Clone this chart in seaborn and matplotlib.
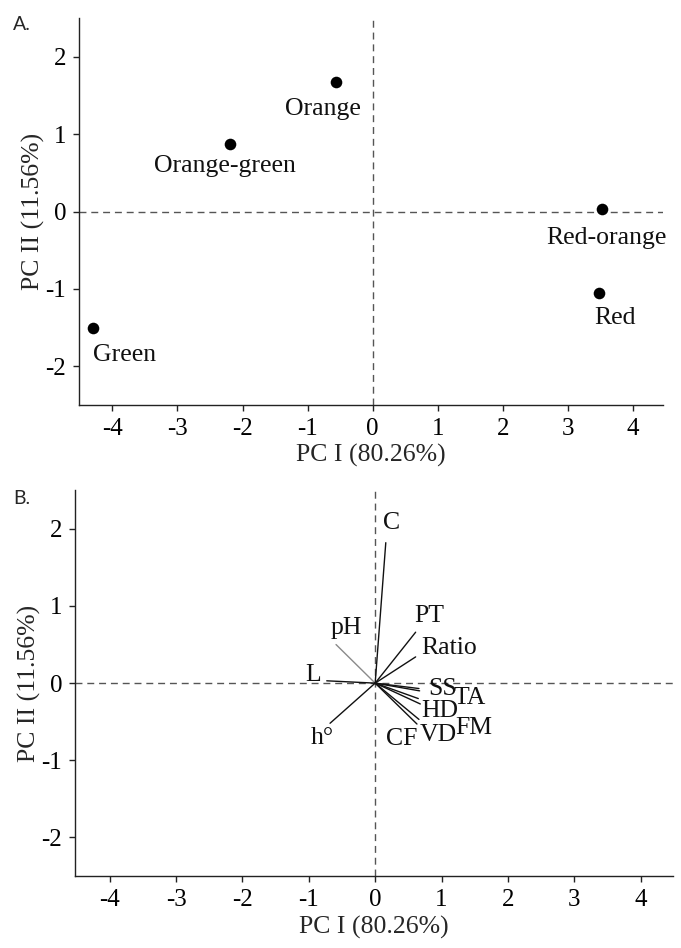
import numpy as np
import pandas as pd
import matplotlib
matplotlib.use("Agg")
import matplotlib.pyplot as plt
import seaborn as sns

# ---------------- data ----------------
# Panel A: PCA scores of fruit colour stages
stages = ["Green", "Orange-green", "Orange", "Red-orange", "Red"]
pc1_scores = [-4.30, -2.19, -0.57, 3.53, 3.48]
pc2_scores = [-1.50, 0.88, 1.67, 0.03, -1.05]

# Panel B: PCA loadings (vectors)
variables = ["C", "PT", "Ratio", "pH", "L", "h°", "SS", "TA", "HD", "FM", "VD", "CF"]
pc1_load = [0.16, 0.61, 0.61, -0.59, -0.73, -0.68, 0.66, 0.67, 0.65, 0.68, 0.66, 0.63]
pc2_load = [1.82, 0.66, 0.34, 0.50, 0.03, -0.52, -0.07, -0.10, -0.20, -0.27, -0.47, -0.53]

# label offsets relative to points / vector tips (data units)
stage_lab_dx = [0.48, -0.08, -0.20, 0.06, 0.25]
stage_lab_dy = [-0.36, -0.29, -0.35, -0.37, -0.33]
var_lab_dx = [0.09, 0.20, 0.51, 0.16, -0.20, -0.12, 0.35, 0.76, 0.32, 0.81, 0.29, -0.23]
var_lab_dy = [0.25, 0.21, 0.12, 0.22, 0.08, -0.19, 0.00, -0.09, -0.16, -0.31, -0.20, -0.19]

x_label = "PC I (80.26%)"
y_label = "PC II (11.56%)"
ticks_x = [-4, -3, -2, -1, 0, 1, 2, 3, 4]
ticks_y = [-2, -1, 0, 1, 2]

# ---------------- style ----------------
sns.set_theme(style="ticks")
plt.rcParams["font.family"] = ["Liberation Serif", "DejaVu Serif"]
plt.rcParams["axes.linewidth"] = 1.0
plt.rcParams["xtick.major.size"] = 4.5
plt.rcParams["ytick.major.size"] = 4.5
plt.rcParams["xtick.major.width"] = 1.0
plt.rcParams["ytick.major.width"] = 1.0

fig = plt.figure(figsize=(6.81, 9.48), dpi=100)
axA = fig.add_axes([0.1164, 0.5728, 0.8576, 0.408])
axB = fig.add_axes([0.1106, 0.0759, 0.8777, 0.407])

dash_kw = dict(color="#555555", lw=1.0, ls=(0, (5, 3.5)), zorder=1)
TXT = 18.5


def style_axes(ax):
    ax.set_xlim(-4.51, 4.47)
    ax.set_ylim(-2.5, 2.5)
    ax.set_xticks(ticks_x)
    ax.set_yticks(ticks_y)
    ax.set_xticklabels([str(t) for t in ticks_x])
    ax.set_yticklabels([str(t) for t in ticks_y])
    ax.tick_params(axis="both", labelsize=18, pad=5, colors="#222222", labelcolor="black")
    ax.set_xlabel(x_label, fontsize=TXT, labelpad=3)
    ax.set_ylabel(y_label, fontsize=TXT, labelpad=0)
    sns.despine(ax=ax)
    for s in ["left", "bottom"]:
        ax.spines[s].set_color("#222222")
    ax.axhline(0, **dash_kw)
    ax.axvline(0, **dash_kw)


# ---- Panel A ----
dfA = pd.DataFrame({"PC1": pc1_scores, "PC2": pc2_scores, "stage": stages})
sns.scatterplot(data=dfA, x="PC1", y="PC2", color="black", s=70, edgecolor="black",
                linewidth=0, ax=axA, zorder=3)
for name, x, y, dx, dy in zip(stages, pc1_scores, pc2_scores, stage_lab_dx, stage_lab_dy):
    axA.text(x + dx, y + dy, name, ha="center", va="center", fontsize=TXT, color="#111111")
style_axes(axA)

# ---- Panel B ----
rows = []
for v, x, y in zip(variables, pc1_load, pc2_load):
    rows.append({"var": v, "PC1": 0.0, "PC2": 0.0})
    rows.append({"var": v, "PC1": x, "PC2": y})
dfB = pd.DataFrame(rows)
palette = {v: ("#8a8a8a" if v == "pH" else "#111111") for v in variables}
sns.lineplot(data=dfB, x="PC1", y="PC2", hue="var", units="var", estimator=None,
             sort=False, palette=palette, lw=1.0, legend=False, ax=axB, zorder=3)
for v, x, y, dx, dy in zip(variables, pc1_load, pc2_load, var_lab_dx, var_lab_dy):
    axB.text(x + dx, y + dy, v, ha="center", va="center", fontsize=TXT, color="#111111")
style_axes(axB)
axB.set_xlim(-4.52, 4.49)

# panel letters
fig.text(0.019, 0.974, "A.", fontsize=14, family=["Lato", "DejaVu Sans"], va="center", ha="left")
fig.text(0.019, 0.474, "B.", fontsize=14, family=["Lato", "DejaVu Sans"], va="center", ha="left")

fig.savefig("out.png", dpi=100, facecolor="white")
